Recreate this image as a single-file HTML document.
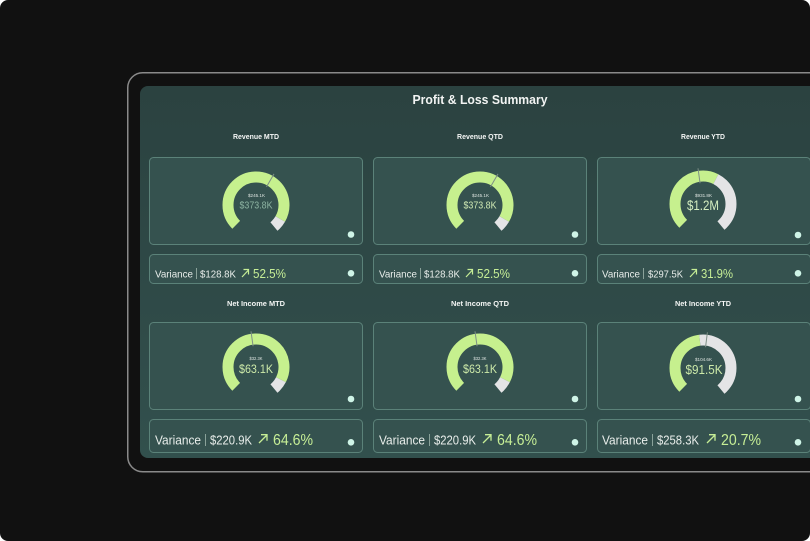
<!DOCTYPE html>
<html>
<head>
<meta charset="utf-8">
<style>
  html,body{margin:0;padding:0;background:#ffffff;}
  body{width:810px;height:541px;overflow:hidden;}
  .wrap{position:absolute;left:0;top:0;width:810px;height:541px;background:#111111;border-radius:8px;overflow:hidden;}
  svg{position:absolute;left:0;top:0;}
  text{font-family:"Liberation Sans", sans-serif;}
</style>
</head>
<body>
<div class="wrap">
<svg width="810" height="541" viewBox="0 0 810 541" xmlns="http://www.w3.org/2000/svg">
  <defs>
    <linearGradient id="scr" x1="0" y1="0" x2="0" y2="1">
      <stop offset="0" stop-color="#2b4240"/>
      <stop offset="1" stop-color="#32504d"/>
    </linearGradient>
  </defs>

  <rect x="127.75" y="72.75" width="720" height="399" rx="15" ry="15" fill="#111111" stroke="#8a8a8a" stroke-width="1.5"/>
  <rect x="140" y="86" width="700" height="372" rx="8" ry="8" fill="url(#scr)"/>

  <text x="480" y="104" text-anchor="middle" font-size="12.5" font-weight="bold" fill="#f2f4f3" textLength="135" lengthAdjust="spacingAndGlyphs">Profit &amp; Loss Summary</text>

  <!-- ===== Column 1 ===== -->
  <g>
    <text x="256" y="139" text-anchor="middle" font-size="7.5" font-weight="bold" fill="#f4f6f5" textLength="46" lengthAdjust="spacingAndGlyphs">Revenue MTD</text>
    <rect x="149.5" y="157.5" width="213" height="87" rx="4" fill="#35524f" stroke="#5b8279" stroke-width="1"/>
    <circle cx="256" cy="205" r="28" fill="none" stroke="#c6f08e" stroke-width="11" stroke-dasharray="124.4 999" transform="rotate(135 256 205)"/>
    <circle cx="256" cy="205" r="28" fill="none" stroke="#e4e4e6" stroke-width="11" stroke-dasharray="0 124.4 9.9 999" transform="rotate(135 256 205)"/>
    <line x1="256" y1="184" x2="256" y2="169" stroke="#7d8f86" stroke-width="1" transform="rotate(30 256 205)"/>
    <text x="256.5" y="197" text-anchor="middle" font-size="4.5" fill="#dfe6e2" textLength="17" lengthAdjust="spacingAndGlyphs">$245.1K</text>
    <text x="256" y="208.5" text-anchor="middle" font-size="10.5" fill="#8db4a2" textLength="33" lengthAdjust="spacingAndGlyphs">$373.8K</text>
    <circle cx="351" cy="234.5" r="3.3" fill="#cff4e7"/>

    <rect x="149.5" y="254.5" width="213" height="29" rx="4" fill="#35524f" stroke="#5b8279" stroke-width="1"/>
    <text x="155" y="277.5" font-size="10.5" fill="#e9eeeb" textLength="38" lengthAdjust="spacingAndGlyphs">Variance</text>
    <line x1="196.5" y1="268" x2="196.5" y2="279" stroke="#8aa29a" stroke-width="1"/>
    <text x="200" y="277.5" font-size="10.5" fill="#e9eeeb" textLength="36" lengthAdjust="spacingAndGlyphs">$128.8K</text>
    <path d="M242 277 L248.5 270 M243.5 269.5 L248.5 269.5 L248.5 274.5" fill="none" stroke="#c6ee96" stroke-width="1.2"/>
    <text x="253" y="278" font-size="13" fill="#c6ee96" textLength="33" lengthAdjust="spacingAndGlyphs">52.5%</text>
    <circle cx="351" cy="273.3" r="3.3" fill="#cff4e7"/>

    <text x="256" y="306" text-anchor="middle" font-size="7.5" font-weight="bold" fill="#f4f6f5" textLength="58" lengthAdjust="spacingAndGlyphs">Net Income MTD</text>
    <rect x="149.5" y="322.5" width="213" height="87" rx="4" fill="#35524f" stroke="#5b8279" stroke-width="1"/>
    <circle cx="256" cy="367" r="28" fill="none" stroke="#c6f08e" stroke-width="11" stroke-dasharray="122.9 999" transform="rotate(135 256 367)"/>
    <circle cx="256" cy="367" r="28" fill="none" stroke="#e4e4e6" stroke-width="11" stroke-dasharray="0 122.9 11.4 999" transform="rotate(135 256 367)"/>
    <line x1="256" y1="346" x2="256" y2="331" stroke="#7d8f86" stroke-width="1" transform="rotate(-8 256 367)"/>
    <text x="256" y="360" text-anchor="middle" font-size="4.5" fill="#dfe6e2" textLength="13" lengthAdjust="spacingAndGlyphs">$32.3K</text>
    <text x="256" y="373" text-anchor="middle" font-size="11.5" fill="#cdeaa9" textLength="34" lengthAdjust="spacingAndGlyphs">$63.1K</text>
    <circle cx="351" cy="399" r="3.3" fill="#cff4e7"/>

    <rect x="149.5" y="419.5" width="213" height="33" rx="4" fill="#35524f" stroke="#5b8279" stroke-width="1"/>
    <text x="155" y="444.5" font-size="12.5" fill="#e9eeeb" textLength="46" lengthAdjust="spacingAndGlyphs">Variance</text>
    <line x1="205.5" y1="434" x2="205.5" y2="446" stroke="#8aa29a" stroke-width="1"/>
    <text x="210" y="444.5" font-size="12.5" fill="#e9eeeb" textLength="42" lengthAdjust="spacingAndGlyphs">$220.9K</text>
    <path d="M259 443 L267 435 M261 434.7 L267 434.7 L267 440.7" fill="none" stroke="#c6ee96" stroke-width="1.3"/>
    <text x="273" y="445" font-size="15.5" fill="#c6ee96" textLength="40" lengthAdjust="spacingAndGlyphs">64.6%</text>
    <circle cx="351" cy="442.3" r="3.3" fill="#cff4e7"/>
  </g>

  <!-- ===== Column 2 ===== -->
  <g transform="translate(224 0)">
    <text x="256" y="139" text-anchor="middle" font-size="7.5" font-weight="bold" fill="#f4f6f5" textLength="46" lengthAdjust="spacingAndGlyphs">Revenue QTD</text>
    <rect x="149.5" y="157.5" width="213" height="87" rx="4" fill="#35524f" stroke="#5b8279" stroke-width="1"/>
    <circle cx="256" cy="205" r="28" fill="none" stroke="#c6f08e" stroke-width="11" stroke-dasharray="124.4 999" transform="rotate(135 256 205)"/>
    <circle cx="256" cy="205" r="28" fill="none" stroke="#e4e4e6" stroke-width="11" stroke-dasharray="0 124.4 9.9 999" transform="rotate(135 256 205)"/>
    <line x1="256" y1="184" x2="256" y2="169" stroke="#7d8f86" stroke-width="1" transform="rotate(30 256 205)"/>
    <text x="256.5" y="197" text-anchor="middle" font-size="4.5" fill="#dfe6e2" textLength="17" lengthAdjust="spacingAndGlyphs">$245.1K</text>
    <text x="256" y="208.5" text-anchor="middle" font-size="10.5" fill="#cfe9b4" textLength="33" lengthAdjust="spacingAndGlyphs">$373.8K</text>
    <circle cx="351" cy="234.5" r="3.3" fill="#cff4e7"/>

    <rect x="149.5" y="254.5" width="213" height="29" rx="4" fill="#35524f" stroke="#5b8279" stroke-width="1"/>
    <text x="155" y="277.5" font-size="10.5" fill="#e9eeeb" textLength="38" lengthAdjust="spacingAndGlyphs">Variance</text>
    <line x1="196.5" y1="268" x2="196.5" y2="279" stroke="#8aa29a" stroke-width="1"/>
    <text x="200" y="277.5" font-size="10.5" fill="#e9eeeb" textLength="36" lengthAdjust="spacingAndGlyphs">$128.8K</text>
    <path d="M242 277 L248.5 270 M243.5 269.5 L248.5 269.5 L248.5 274.5" fill="none" stroke="#c6ee96" stroke-width="1.2"/>
    <text x="253" y="278" font-size="13" fill="#c6ee96" textLength="33" lengthAdjust="spacingAndGlyphs">52.5%</text>
    <circle cx="351" cy="273.3" r="3.3" fill="#cff4e7"/>

    <text x="256" y="306" text-anchor="middle" font-size="7.5" font-weight="bold" fill="#f4f6f5" textLength="58" lengthAdjust="spacingAndGlyphs">Net Income QTD</text>
    <rect x="149.5" y="322.5" width="213" height="87" rx="4" fill="#35524f" stroke="#5b8279" stroke-width="1"/>
    <circle cx="256" cy="367" r="28" fill="none" stroke="#c6f08e" stroke-width="11" stroke-dasharray="122.9 999" transform="rotate(135 256 367)"/>
    <circle cx="256" cy="367" r="28" fill="none" stroke="#e4e4e6" stroke-width="11" stroke-dasharray="0 122.9 11.4 999" transform="rotate(135 256 367)"/>
    <line x1="256" y1="346" x2="256" y2="331" stroke="#7d8f86" stroke-width="1" transform="rotate(-8 256 367)"/>
    <text x="256" y="360" text-anchor="middle" font-size="4.5" fill="#dfe6e2" textLength="13" lengthAdjust="spacingAndGlyphs">$32.3K</text>
    <text x="256" y="373" text-anchor="middle" font-size="11.5" fill="#cdeaa9" textLength="34" lengthAdjust="spacingAndGlyphs">$63.1K</text>
    <circle cx="351" cy="399" r="3.3" fill="#cff4e7"/>

    <rect x="149.5" y="419.5" width="213" height="33" rx="4" fill="#35524f" stroke="#5b8279" stroke-width="1"/>
    <text x="155" y="444.5" font-size="12.5" fill="#e9eeeb" textLength="46" lengthAdjust="spacingAndGlyphs">Variance</text>
    <line x1="205.5" y1="434" x2="205.5" y2="446" stroke="#8aa29a" stroke-width="1"/>
    <text x="210" y="444.5" font-size="12.5" fill="#e9eeeb" textLength="42" lengthAdjust="spacingAndGlyphs">$220.9K</text>
    <path d="M259 443 L267 435 M261 434.7 L267 434.7 L267 440.7" fill="none" stroke="#c6ee96" stroke-width="1.3"/>
    <text x="273" y="445" font-size="15.5" fill="#c6ee96" textLength="40" lengthAdjust="spacingAndGlyphs">64.6%</text>
    <circle cx="351" cy="442.3" r="3.3" fill="#cff4e7"/>
  </g>

  <!-- ===== Column 3 ===== -->
  <g transform="translate(448 0)">
    <text x="255" y="139" text-anchor="middle" font-size="7.5" font-weight="bold" fill="#f4f6f5" textLength="44" lengthAdjust="spacingAndGlyphs">Revenue YTD</text>
    <rect x="149.5" y="157.5" width="213" height="87" rx="4" fill="#35524f" stroke="#5b8279" stroke-width="1"/>
    <circle cx="255" cy="204" r="28" fill="none" stroke="#c6f08e" stroke-width="11" stroke-dasharray="79.1 999" transform="rotate(135 255 204)"/>
    <circle cx="255" cy="204" r="28" fill="none" stroke="#e4e4e6" stroke-width="11" stroke-dasharray="0 79.1 55.2 999" transform="rotate(135 255 204)"/>
    <line x1="255" y1="183" x2="255" y2="168" stroke="#7d8f86" stroke-width="1" transform="rotate(-8 255 204)"/>
    <text x="255.5" y="197" text-anchor="middle" font-size="4.5" fill="#dfe6e2" textLength="17" lengthAdjust="spacingAndGlyphs">$931.8K</text>
    <text x="255" y="210" text-anchor="middle" font-size="14" fill="#d4eec0" textLength="32" lengthAdjust="spacingAndGlyphs">$1.2M</text>
    <circle cx="350" cy="235" r="3.3" fill="#cff4e7"/>

    <rect x="149.5" y="254.5" width="213" height="29" rx="4" fill="#35524f" stroke="#5b8279" stroke-width="1"/>
    <text x="154" y="277.5" font-size="10.5" fill="#e9eeeb" textLength="38" lengthAdjust="spacingAndGlyphs">Variance</text>
    <line x1="195.5" y1="268" x2="195.5" y2="279" stroke="#8aa29a" stroke-width="1"/>
    <text x="200" y="277.5" font-size="10.5" fill="#e9eeeb" textLength="35" lengthAdjust="spacingAndGlyphs">$297.5K</text>
    <path d="M242 277 L248.5 270 M243.5 269.5 L248.5 269.5 L248.5 274.5" fill="none" stroke="#c6ee96" stroke-width="1.2"/>
    <text x="253" y="278" font-size="13" fill="#c6ee96" textLength="32" lengthAdjust="spacingAndGlyphs">31.9%</text>
    <circle cx="350" cy="273.3" r="3.3" fill="#cff4e7"/>

    <text x="255" y="306" text-anchor="middle" font-size="7.5" font-weight="bold" fill="#f4f6f5" textLength="56" lengthAdjust="spacingAndGlyphs">Net Income YTD</text>
    <rect x="149.5" y="322.5" width="213" height="87" rx="4" fill="#35524f" stroke="#5b8279" stroke-width="1"/>
    <circle cx="255" cy="368" r="28" fill="none" stroke="#c6f08e" stroke-width="11" stroke-dasharray="62.7 999" transform="rotate(135 255 368)"/>
    <circle cx="255" cy="368" r="28" fill="none" stroke="#e4e4e6" stroke-width="11" stroke-dasharray="0 62.7 71.6 999" transform="rotate(135 255 368)"/>
    <line x1="255" y1="347" x2="255" y2="332" stroke="#7d8f86" stroke-width="1" transform="rotate(7 255 368)"/>
    <text x="255.5" y="361" text-anchor="middle" font-size="4.5" fill="#dfe6e2" textLength="17" lengthAdjust="spacingAndGlyphs">$104.6K</text>
    <text x="256" y="374" text-anchor="middle" font-size="12.5" fill="#cdeaa9" textLength="37" lengthAdjust="spacingAndGlyphs">$91.5K</text>
    <circle cx="350" cy="399" r="3.3" fill="#cff4e7"/>

    <rect x="149.5" y="419.5" width="213" height="33" rx="4" fill="#35524f" stroke="#5b8279" stroke-width="1"/>
    <text x="154" y="444.5" font-size="12.5" fill="#e9eeeb" textLength="46" lengthAdjust="spacingAndGlyphs">Variance</text>
    <line x1="204.5" y1="434" x2="204.5" y2="446" stroke="#8aa29a" stroke-width="1"/>
    <text x="209" y="444.5" font-size="12.5" fill="#e9eeeb" textLength="42" lengthAdjust="spacingAndGlyphs">$258.3K</text>
    <path d="M259 443 L267 435 M261 434.7 L267 434.7 L267 440.7" fill="none" stroke="#c6ee96" stroke-width="1.3"/>
    <text x="273" y="445" font-size="15.5" fill="#c6ee96" textLength="40" lengthAdjust="spacingAndGlyphs">20.7%</text>
    <circle cx="350" cy="442.3" r="3.3" fill="#cff4e7"/>
  </g>
</svg>
</div>
</body>
</html>
